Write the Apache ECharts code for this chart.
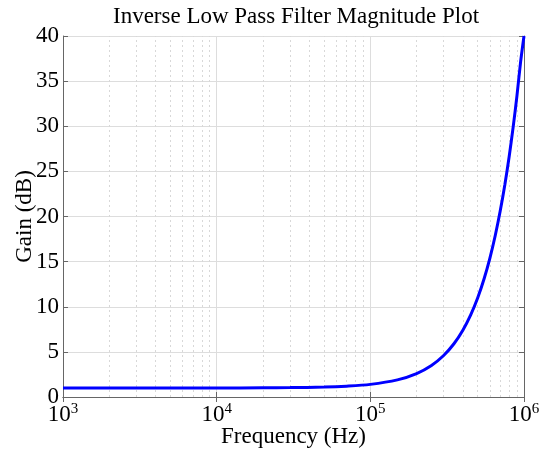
<!DOCTYPE html>
<html>
<head>
<meta charset="utf-8">
<script src="https://cdn.jsdelivr.net/npm/echarts@6/dist/echarts.min.js"></script>
<style>
  html, body { margin: 0; padding: 0; background: #fff; }
  #main { width: 539px; height: 456px; }
</style>
</head>
<body>
<div id="main"></div>
<script>
// values
const freqHz = [1e3, 2e3, 5e3, 1e4, 2e4, 3e4, 5e4, 7e4, 1e5, 1.5e5, 2e5, 2.5e5, 3e5, 3.5e5,
  4e5, 4.5e5, 5e5, 5.5e5, 6e5, 6.5e5, 7e5, 7.5e5, 8e5, 8.5e5, 9e5, 9.5e5, 1e6];
const gainDb = [1.0, 1.0, 1.0, 1.0, 1.02, 1.04, 1.1, 1.2, 1.4, 1.9, 2.6, 3.5, 4.6, 5.9,
  7.4, 9.1, 11.0, 13.1, 15.4, 17.9, 20.6, 23.5, 26.6, 29.9, 33.4, 37.1, 40.0];
const minorFreqs = [];
for (let d = 1e3; d < 1e6; d *= 10) {
  for (let m = 2; m <= 9; m++) minorFreqs.push(m * d);
}

const font = 'Liberation Serif';
let chart = echarts.init(document.getElementById('main'));

let option = {
  animation: false,
  title: {
    text: 'Inverse Low Pass Filter Magnitude Plot',
    left: 291, textAlign: 'center', top: 0,
    textStyle: { fontFamily: font, fontSize: 23, fontWeight: 'normal', color: '#000' }
  },
  grid: { left: 63, right: 15, top: 36, bottom: 59, containLabel: false, outerBoundsMode: 'none' },
  xAxis: [{
    type: 'log', logBase: 10, min: 1e3, max: 1e6,
    name: 'Frequency (Hz)', nameLocation: 'middle', nameGap: 28, nameMoveOverlap: false,
    nameTextStyle: { fontFamily: font, fontSize: 23, color: '#000' },
    axisLine: { lineStyle: { color: '#666' } },
    axisTick: { inside: true, length: 5, lineStyle: { color: '#666' } },
    splitLine: { show: true, lineStyle: { color: '#ddd' } },
    axisLabel: {
      margin: 5,
      formatter: function (v) {
        return '{b|10}{s|' + Math.round(Math.log10(v)) + '}';
      },
      rich: {
        b: { fontFamily: font, fontSize: 23, color: '#000' },
        s: { fontFamily: font, fontSize: 15, color: '#000', padding: [0, 0, 11, 0] }
      }
    }
  }, {
    type: 'log', logBase: 10, min: 1e3, max: 1e6, position: 'top',
    axisLine: { lineStyle: { color: '#666' } },
    axisTick: { inside: true, length: 5, lineStyle: { color: '#666' } },
    axisLabel: { show: false }, splitLine: { show: false }
  }],
  yAxis: [{
    type: 'value', min: 0, max: 40, interval: 5,
    name: 'Gain (dB)', nameLocation: 'middle', nameGap: 27, nameMoveOverlap: false,
    nameTextStyle: { fontFamily: font, fontSize: 23, color: '#000' },
    axisLine: { show: true, lineStyle: { color: '#666' } },
    axisTick: { show: true, inside: true, length: 5, lineStyle: { color: '#666' } },
    splitLine: { show: true, lineStyle: { color: '#ddd' } },
    axisLabel: { fontFamily: font, fontSize: 23, color: '#000', margin: 4 }
  }, {
    type: 'value', min: 0, max: 40, interval: 5, position: 'right',
    axisLine: { show: true, lineStyle: { color: '#666' } },
    axisTick: { show: true, inside: true, length: 5, lineStyle: { color: '#666' } },
    axisLabel: { show: false }, splitLine: { show: false }
  }],
  series: [{
    // minor grid, drawn beneath the curve
    type: 'line', data: [], z: 1,
    markLine: {
      silent: true, symbol: 'none', label: { show: false },
      lineStyle: { color: '#d8d8d8', type: [2, 3], width: 1 },
      data: minorFreqs.map(f => ({ xAxis: f }))
    }
  }, {
    type: 'line', z: 5,
    data: freqHz.map((f, i) => [f, gainDb[i]]),
    smooth: 0.3,
    showSymbol: false,
    lineStyle: { color: '#0000ff', width: 3 }
  }]
};
chart.setOption(option);
</script>
</body>
</html>
